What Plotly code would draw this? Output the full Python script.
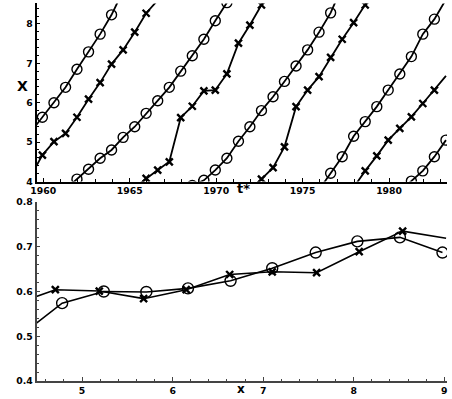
import plotly.graph_objects as go

# ---------------- top panel: characteristic lines X(t*) ----------------
A_t = [1959.29, 1959.95, 1960.62, 1961.29, 1961.95, 1962.62, 1963.29, 1963.95, 1964.62]
A_x = [5.26, 5.63, 6.00, 6.39, 6.85, 7.29, 7.74, 8.23, 8.84]
A_m = (1, 8)

B_t = [1959.29, 1959.95, 1960.62, 1961.29, 1961.95, 1962.62, 1963.29, 1963.95, 1964.62, 1965.29, 1965.95, 1966.62]
B_x = [4.15, 4.67, 5.01, 5.22, 5.63, 6.09, 6.51, 6.98, 7.34, 7.79, 8.27, 8.60]
B_m = (1, 11)

C_t = [1961.29, 1961.95, 1962.62, 1963.29, 1963.95, 1964.62, 1965.29, 1965.95, 1966.62, 1967.29,
       1967.95, 1968.62, 1969.29, 1969.95, 1970.62, 1971.29]
C_x = [3.80, 4.06, 4.31, 4.59, 4.80, 5.12, 5.39, 5.73, 6.05, 6.39, 6.80, 7.19, 7.61, 8.08, 8.54, 9.00]
C_m = (1, 15)

D_t = [1965.29, 1965.95, 1966.62, 1967.29, 1967.95, 1968.62, 1969.29, 1969.95, 1970.62, 1971.29,
       1971.95, 1972.62, 1973.29]
D_x = [3.85, 4.08, 4.29, 4.50, 5.62, 5.91, 6.30, 6.32, 6.73, 7.51, 7.97, 8.48, 8.95]
D_m = (1, 12)

E_t = [1968.62, 1969.29, 1969.95, 1970.62, 1971.29, 1971.95, 1972.62, 1973.29, 1973.95, 1974.62,
       1975.29, 1975.95, 1976.62, 1977.29]
E_x = [3.90, 4.03, 4.29, 4.59, 5.02, 5.39, 5.80, 6.15, 6.54, 6.93, 7.34, 7.79, 8.28, 8.95]
E_m = (0, 13)

F_t = [1971.95, 1972.62, 1973.29, 1973.95, 1974.62, 1975.29, 1975.95, 1976.62, 1977.29, 1977.95,
       1978.62, 1979.29]
F_x = [3.80, 4.06, 4.35, 4.88, 5.90, 6.32, 6.66, 7.15, 7.61, 8.03, 8.48, 8.95]
F_m = (1, 11)

G_t = [1975.95, 1976.62, 1977.29, 1977.95, 1978.62, 1979.29, 1979.95, 1980.62, 1981.29, 1981.95,
       1982.62, 1983.29]
G_x = [3.79, 4.21, 4.63, 5.15, 5.52, 5.90, 6.32, 6.73, 7.17, 7.74, 8.12, 8.62]
G_m = (1, 11)

H_t = [1977.95, 1978.62, 1979.29, 1979.95, 1980.62, 1981.29, 1981.95, 1982.62, 1983.29]
H_x = [3.85, 4.27, 4.65, 5.05, 5.35, 5.64, 5.98, 6.32, 6.68]
H_m = (1, 8)

I_t = [1980.62, 1981.29, 1981.95, 1982.62, 1983.29]
I_x = [3.75, 4.01, 4.27, 4.63, 5.05]
I_m = (1, 5)

# ---------------- bottom panel ----------------
circ_xpos = [4.31, 4.78, 5.24, 5.71, 6.17, 6.64, 7.10, 7.58, 8.04, 8.51, 8.98]
circ_val = [0.500, 0.574, 0.600, 0.599, 0.607, 0.624, 0.652, 0.687, 0.712, 0.721, 0.687]
circ_m = (1, 11)

cross_xpos = [4.22, 4.705, 5.19, 5.68, 6.15, 6.63, 7.10, 7.59, 8.06, 8.54, 9.02]
cross_val = [0.569, 0.604, 0.601, 0.584, 0.604, 0.638, 0.644, 0.642, 0.689, 0.735, 0.719]
cross_m = (1, 10)

top_ticks = [1960, 1965, 1970, 1975, 1980]
top_yticks = [4, 5, 6, 7, 8]
bot_xticks = [5, 6, 7, 8, 9]
bot_yticks = [0.4, 0.5, 0.6, 0.7, 0.8]

W, H = 452, 399
CIRC = dict(symbol="circle-open", size=10, color="black", line=dict(width=1.4, color="black"))
CROSS = dict(symbol="x-thin-open", size=7, color="black", line=dict(width=2.4, color="black"))

fig = go.Figure()


def add_series(t, v, m, marker, xa, ya, lw=1.8):
    fig.add_trace(go.Scatter(x=t, y=v, mode="lines", line=dict(color="black", width=lw),
                             xaxis=xa, yaxis=ya, showlegend=False, hoverinfo="skip"))
    fig.add_trace(go.Scatter(x=t[m[0]:m[1]], y=v[m[0]:m[1]], mode="markers", marker=marker,
                             xaxis=xa, yaxis=ya, showlegend=False))


for t, v, m, mk in [(A_t, A_x, A_m, CIRC), (B_t, B_x, B_m, CROSS), (C_t, C_x, C_m, CIRC),
                    (D_t, D_x, D_m, CROSS), (E_t, E_x, E_m, CIRC), (F_t, F_x, F_m, CROSS),
                    (G_t, G_x, G_m, CIRC), (H_t, H_x, H_m, CROSS), (I_t, I_x, I_m, CIRC)]:
    add_series(t, v, m, mk, "x", "y")

add_series(circ_xpos, circ_val, circ_m, dict(CIRC, size=11), "x2", "y2", lw=1.6)
add_series(cross_xpos, cross_val, cross_m, CROSS, "x2", "y2", lw=1.6)

tickfont = dict(family="DejaVu Sans", size=9.3, color="black", weight="bold")


def ax(domain, rng, ticks, minor_dtick, anchor, color="black", fmt=None):
    d = dict(domain=domain, range=rng, tickmode="array", tickvals=ticks,
             ticktext=[fmt(v) if fmt else str(v) for v in ticks],
             ticks="inside", ticklen=4, tickwidth=1, tickcolor=color,
             showline=True, linecolor=color, linewidth=1.6, mirror=False,
             showgrid=False, zeroline=False, tickfont=tickfont, anchor=anchor,
             automargin=False,
             minor=dict(dtick=minor_dtick, ticks="inside", ticklen=2.5, tickwidth=1,
                        tickcolor=color, showgrid=False))
    return d


xd = [36.5 / W, 447 / W]
fig.update_layout(
    width=W, height=H, margin=dict(l=0, r=0, t=0, b=0),
    paper_bgcolor="white", plot_bgcolor="white",
    xaxis=ax(xd, [1959.61, 1983.35], top_ticks, 1, "y"),
    yaxis=ax([1 - 181.5 / H, 1 - 3.4 / H], [4, 8.52], top_yticks, 0.2, "x"),
    xaxis2=ax(xd, [4.497, 9.03], bot_xticks, 0.2, "y2", color="#444"),
    yaxis2=ax([1 - 381 / H, 1 - 202 / H], [0.4, 0.8], bot_yticks, 0.02, "x2", color="#444",
              fmt=lambda v: f"{v:.1f}"),
)
fig.update_xaxes(tick0=0)

titlefont = dict(family="DejaVu Sans", size=12, color="black", weight="bold")
fig.add_annotation(text="X", x=22.5 / W, y=1 - 85.5 / H, xref="paper", yref="paper",
                   showarrow=False, font=dict(titlefont, size=14), xanchor="center", yanchor="middle")
fig.add_annotation(text="t*", x=243 / W, y=1 - 188 / H, xref="paper", yref="paper",
                   showarrow=False, font=dict(titlefont, size=13), xanchor="center", yanchor="middle")
fig.add_annotation(text="x", x=241 / W, y=1 - 389 / H, xref="paper", yref="paper",
                   showarrow=False, font=titlefont, xanchor="center", yanchor="middle")

fig.write_html("out.html")
